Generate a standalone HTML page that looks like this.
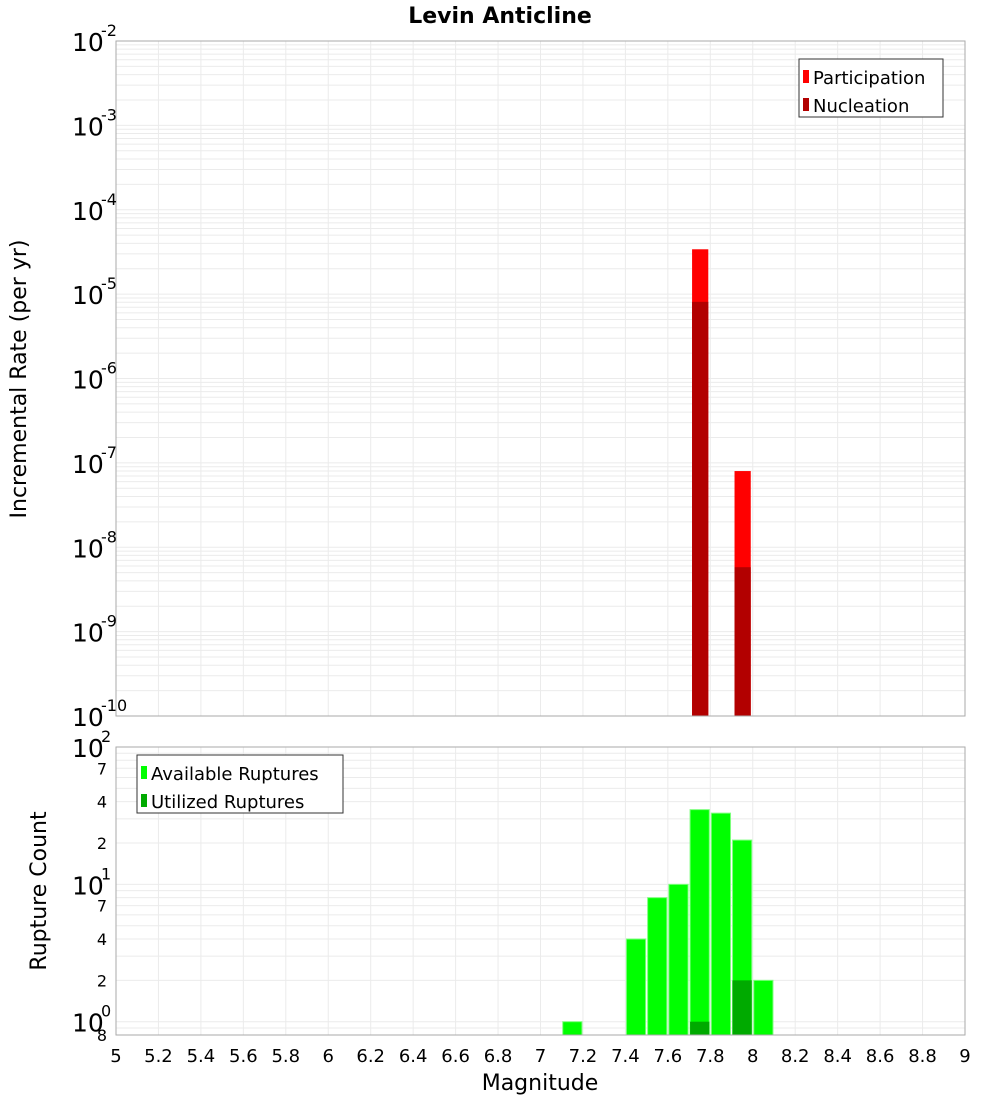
<!DOCTYPE html>
<html><head><meta charset="utf-8"><style>
body{margin:0;background:#fff;font-family:"Liberation Sans","DejaVu Sans",sans-serif}
</style></head><body>
<svg id="c" width="1000" height="1100" xmlns="http://www.w3.org/2000/svg" font-family="DejaVu Sans, Liberation Sans, sans-serif"></svg>
<script>
const binCenters=[7.75,7.95];
const participation=[3.4e-5,8.0e-8];
const nucleation=[8.1e-6,5.8e-9];
const countBins=[7.15,7.45,7.55,7.65,7.75,7.85,7.95,8.05];
const available=[1,4,8,10,35,33,21,2];
const utilBins=[7.75,7.95];
const utilized=[1,2];
const xTicks=[5,5.2,5.4,5.6,5.8,6,6.2,6.4,6.6,6.8,7,7.2,7.4,7.6,7.8,8,8.2,8.4,8.6,8.8,9];

const S=document.getElementById('c'),NS='http://www.w3.org/2000/svg';
function el(t,a,txt){const e=document.createElementNS(NS,t);for(const k in a)e.setAttribute(k,a[k]);if(txt!==undefined)e.textContent=txt;S.appendChild(e);return e;}
const X0=116,X1=965;
const x=v=>X0+(v-5)/4*(X1-X0);
const T0=41,T1=716;
const yT=v=>T0+(-2-Math.log10(v))/8*(T1-T0);
const B0=747,B1=1035;
const yB=v=>B0+(2-Math.log10(v))/Math.log10(100/0.8)*(B1-B0);

// grids
let g;
for(let d=-10;d<-2;d++)for(let m=1;m<10;m++){const yy=yT(m*Math.pow(10,d));g=el('line',{x1:X0,x2:X1,y1:yy,y2:yy,stroke:'#ebebeb','stroke-width':1});}
for(let d=-1;d<2;d++)for(let m=1;m<10;m++){const v=m*Math.pow(10,d);if(v<0.8)continue;const yy=yB(v);g=el('line',{x1:X0,x2:X1,y1:yy,y2:yy,stroke:'#ebebeb','stroke-width':1});}
xTicks.forEach(t=>{const xx=x(t);
g=el('line',{x1:xx,x2:xx,y1:T0,y2:T1,stroke:'#ebebeb'});
g=el('line',{x1:xx,x2:xx,y1:B0,y2:B1,stroke:'#ebebeb'});
const l=el('text',{x:xx,y:1062,'font-size':18,'text-anchor':'middle',fill:'#000'},String(t));});

// top bars
binCenters.forEach((c,i)=>{const a=x(c-0.05)+3,b=x(c+0.05)-2;
let r=el('rect',{x:a,y:yT(participation[i]),width:b-a,height:T1-yT(participation[i]),fill:'#ff0000'});
r=el('rect',{x:a,y:yT(nucleation[i]),width:b-a,height:T1-yT(nucleation[i]),fill:'#b20000'});});
// bottom bars
countBins.forEach((c,i)=>{const a=x(c-0.05)+1,b=x(c+0.05)-1;
const r=el('rect',{x:a,y:yB(available[i]),width:b-a,height:B1-yB(available[i]),fill:'#00ff00',stroke:'#7fff7f','stroke-width':1});});
utilBins.forEach((c,i)=>{const a=x(c-0.05)+1,b=x(c+0.05)-1;
const r=el('rect',{x:a,y:yB(utilized[i]),width:b-a,height:B1-yB(utilized[i]),fill:'#00aa00'});});

// frames
let f=el('rect',{x:X0,y:T0,width:X1-X0,height:T1-T0,fill:'none',stroke:'#aaa'});
f=el('rect',{x:X0,y:B0,width:X1-X0,height:B1-B0,fill:'none',stroke:'#aaa'});

// top y labels
for(let d=-10;d<=-2;d++){const yy=yT(Math.pow(10,d));
const t=el('text',{x:72,y:yy+10,'font-size':25,fill:'#000'},'10');
const s=el('text',{x:101,y:yy-5,'font-size':16,fill:'#000'},String(d));}
// bottom y labels
[[100,'2'],[10,'1'],[1,'0']].forEach(([v,e])=>{const yy=yB(v);
const t=el('text',{x:72,y:yy+10,'font-size':25,fill:'#000'},'10');
const s=el('text',{x:101,y:yy-5,'font-size':16,fill:'#000'},e);});
[[70,'7'],[40,'4'],[20,'2'],[7,'7'],[4,'4'],[2,'2'],[0.8,'8']].forEach(([v,l])=>{const t=el('text',{x:107,y:yB(v)+6,'font-size':16,'text-anchor':'end',fill:'#000'},l);});

// titles
let t=el('text',{x:500,y:23,'font-size':22,'font-weight':'bold','text-anchor':'middle'},'Levin Anticline');
t=el('text',{x:0,y:0,'font-size':22,'text-anchor':'middle',transform:'translate(26,379) rotate(-90)'},'Incremental Rate (per yr)');
t=el('text',{x:0,y:0,'font-size':22,'text-anchor':'middle',transform:'translate(46,891) rotate(-90)'},'Rupture Count');
t=el('text',{x:540,y:1090,'font-size':22,'text-anchor':'middle'},'Magnitude');

// legends
function legend(x0,y0,w,items,name){const r=el('rect',{x:x0,y:y0,width:w,height:58,fill:'#fff',stroke:'#333'});
items.forEach(([lab,col],i)=>{const yy=y0+18+i*28;const s=el('rect',{x:x0+4,y:yy-7,width:6,height:13,fill:col});
const tx=el('text',{x:x0+14,y:yy+7,'font-size':18},lab);});}
legend(799,59,144,[['Participation','#ff0000'],['Nucleation','#b20000']],'legend-top');
legend(137,755,206,[['Available Ruptures','#00ff00'],['Utilized Ruptures','#00aa00']],'legend-bottom');
</script>
</body></html>
